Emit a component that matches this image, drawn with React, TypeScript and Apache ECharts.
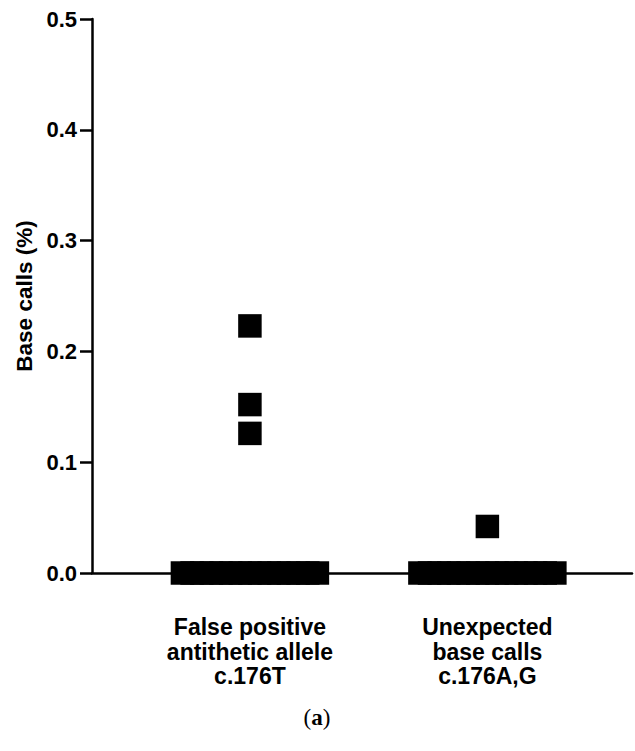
import React, { useEffect, useRef } from "react";
import * as echarts from "echarts";

const categories = ["False positive\nantithetic allele\nc.176T", "Unexpected\nbase calls\nc.176A,G"];
const falsePositive = [0.223, 0.152, 0.126, 0, 0, 0, 0, 0, 0, 0, 0, 0, 0, 0, 0, 0, 0, 0];
const unexpected = [0.042, 0, 0, 0, 0, 0, 0, 0, 0, 0, 0, 0, 0, 0, 0, 0];
const yTicks = [0, 0.1, 0.2, 0.3, 0.4, 0.5];
const seriesValues = [falsePositive, unexpected];

const FONT = "'Liberation Sans', Arial, Helvetica, sans-serif";
const STEP = 0.0406; // horizontal spread between overlapping points (x units)

function spread(values: number[], center: number): number[][] {
  const groups = new Map<number, number[]>();
  values.forEach((v) => {
    if (!groups.has(v)) groups.set(v, []);
    groups.get(v)!.push(v);
  });
  const out: number[][] = [];
  groups.forEach((g, v) => {
    const n = g.length;
    g.forEach((_, i) => out.push([center + (i - (n - 1) / 2) * STEP, v]));
  });
  return out;
}

export default function App() {
  const ref = useRef<HTMLDivElement>(null);
  useEffect(() => {
    if (!ref.current) return;
    const chart = echarts.init(ref.current, undefined, { renderer: "svg" });
    chart.setOption({
      animation: false,
      backgroundColor: "#ffffff",
      grid: { left: 92, right: 3, top: 19, bottom: 178, containLabel: false },
      xAxis: {
        type: "value",
        min: 0.335,
        max: 2.609,
        axisLine: { show: true, onZero: false, lineStyle: { color: "#000", width: 2.5 } },
        axisTick: { show: false },
        splitLine: { show: false },
        axisLabel: {
          customValues: [1, 2],
          formatter: (v: number) => categories[Math.round(v) - 1] ?? "",
          color: "#000",
          fontFamily: FONT,
          fontWeight: "bold",
          fontSize: 23,
          lineHeight: 24.5,
          margin: 42,
          align: "center",
        },
      },
      yAxis: {
        type: "value",
        min: 0,
        max: 0.5,
        interval: 0.1,
        name: "Base calls (%)",
        nameLocation: "middle",
        nameGap: 54,
        nameTextStyle: { color: "#000", fontFamily: FONT, fontWeight: "bold", fontSize: 22.5 },
        axisLine: { show: true, lineStyle: { color: "#000", width: 2.5 } },
        axisTick: { show: true, length: 12, lineStyle: { color: "#000", width: 2.5 } },
        splitLine: { show: false },
        axisLabel: {
          customValues: yTicks,
          formatter: (v: number) => v.toFixed(1),
          color: "#000",
          fontFamily: FONT,
          fontWeight: "bold",
          fontSize: 22,
          margin: 15,
        },
      },
      series: seriesValues.map((vals, i) => ({
        type: "scatter",
        symbol: "rect",
        symbolSize: 23.5,
        clip: false,
        itemStyle: { color: "#000", opacity: 1 },
        data: spread(vals, i + 1),
      })),
      graphic: [
        {
          type: "text",
          x: 317,
          y: 717,
          style: {
            text: "({b|a})",
            align: "center",
            verticalAlign: "middle",
            fontFamily: "'Liberation Serif', 'DejaVu Serif', serif",
            fontSize: 23,
            fill: "#000",
            rich: { b: { fontWeight: "bold", fontSize: 23, fontFamily: "'Liberation Serif', 'DejaVu Serif', serif" } },
          },
        },
      ],
    });
    return () => chart.dispose();
  }, []);
  return <div ref={ref} style={{ position: "fixed", left: 0, top: 0, width: 635, height: 751 }} />;
}
